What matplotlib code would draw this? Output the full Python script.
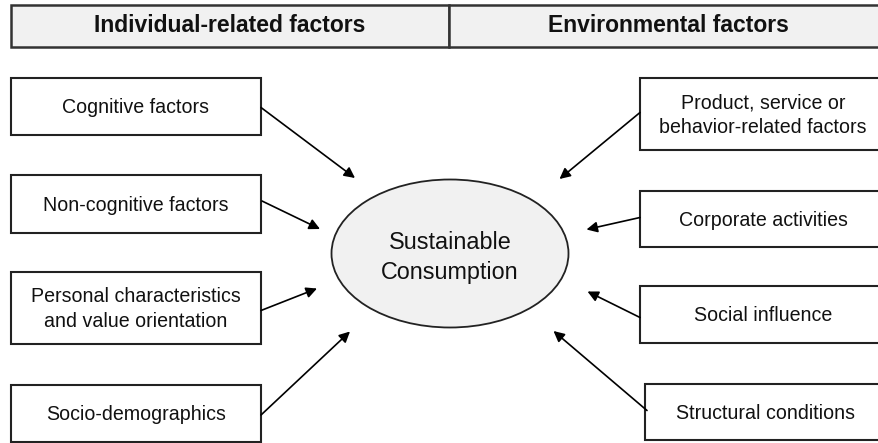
import matplotlib
matplotlib.use("Agg")
import matplotlib.pyplot as plt
from matplotlib.patches import Rectangle, Ellipse

plt.rcParams['font.family'] = ['Liberation Sans', 'DejaVu Sans']

# ---- content ----
header_labels = ["Individual-related factors", "Environmental factors"]
left_labels = ["Cognitive factors", "Non-cognitive factors",
               "Personal characteristics\nand value orientation", "Socio-demographics"]
right_labels = ["Product, service or\nbehavior-related factors", "Corporate activities",
                "Social influence", "Structural conditions"]
center_label = "Sustainable\nConsumption"

# ---- layout (pixel coordinates, y downward) ----
W, H = 879, 443
header_box = (11, 4.5, 887, 46.5)
header_div = 449
left_boxes = [(11, 77.5, 261, 134.5), (11, 175, 261, 232.5),
              (11, 271.5, 261, 343.5), (11, 385, 261, 441.5)]
right_boxes = [(640, 77.5, 886, 150), (640, 190.5, 886, 246.5),
               (640, 286, 886, 342.5), (645, 383.5, 887, 440)]
ell_center = (450, 253.5)
ell_size = (237, 148)
left_arrows = [((261, 107.5), (355, 178)), ((262, 201), (320, 229)),
               ((261, 310.5), (317, 288.5)), ((261, 415), (350, 331.5))]
right_arrows = [((640, 112.5), (559.5, 179)), ((640, 217.5), (586.5, 229.5)),
                ((640, 317.5), (587.5, 291.5)), ((647, 410.5), (553.5, 331))]

fill = "#f1f1f1"
edge = "#222222"

fig = plt.figure(figsize=(W / 100, H / 100), dpi=100)
ax = fig.add_axes([0, 0, 1, 1])
ax.set_xlim(0, W)
ax.set_ylim(H, 0)
ax.axis("off")

# header
x0, y0, x1, y1 = header_box
ax.add_patch(Rectangle((x0, y0), header_div - x0, y1 - y0, facecolor=fill,
                       edgecolor="#333333", linewidth=1.8))
ax.add_patch(Rectangle((header_div, y0), x1 - header_div, y1 - y0, facecolor=fill,
                       edgecolor="#333333", linewidth=1.8))
ax.text((x0 + header_div) / 2, (y0 + y1) / 2, header_labels[0], ha="center", va="center",
        fontsize=16.5, fontweight="bold", color="#111111")
ax.text((header_div + x1) / 2, (y0 + y1) / 2, header_labels[1], ha="center", va="center",
        fontsize=16.5, fontweight="bold", color="#111111")

def draw_box(b, label):
    bx0, by0, bx1, by1 = b
    ax.add_patch(Rectangle((bx0, by0), bx1 - bx0, by1 - by0, facecolor="white",
                           edgecolor=edge, linewidth=1.5))
    ax.text((bx0 + bx1) / 2, (by0 + by1) / 2 + 1.5, label, ha="center", va="center",
            fontsize=14.1, color="#111111", linespacing=1.42)

for b, lab in zip(left_boxes, left_labels):
    draw_box(b, lab)
for b, lab in zip(right_boxes, right_labels):
    draw_box(b, lab)

ax.add_patch(Ellipse(ell_center, ell_size[0], ell_size[1], facecolor=fill,
                     edgecolor=edge, linewidth=1.3))
ax.text(ell_center[0], ell_center[1] + 4, center_label, ha="center", va="center",
        fontsize=16.8, color="#111111", linespacing=1.4)

for start, end in left_arrows + right_arrows:
    ax.annotate("", xy=end, xytext=start,
                arrowprops=dict(arrowstyle="-|>", color="black", lw=1.2,
                                mutation_scale=16, shrinkA=0, shrinkB=0))

fig.savefig("out.png", dpi=100)
